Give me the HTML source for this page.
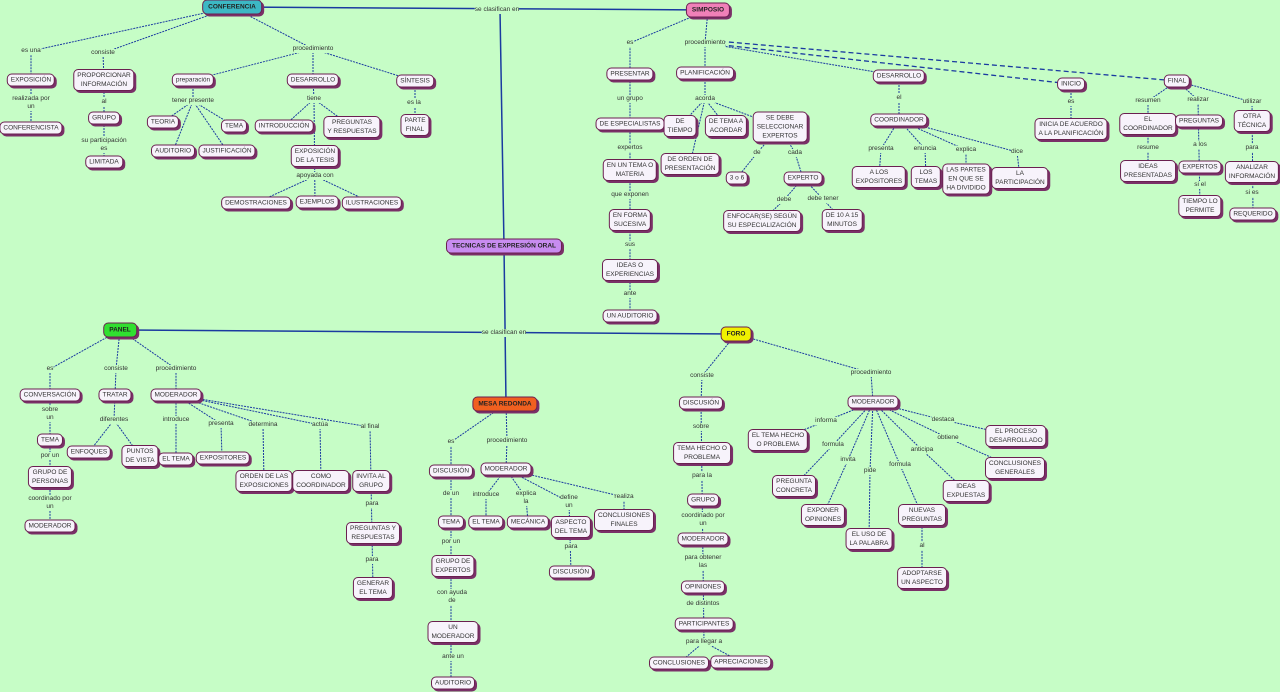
<!DOCTYPE html>
<html><head><meta charset="utf-8"><style>
body{margin:0;width:1280px;height:692px;background:#c6fdc6;position:relative;overflow:hidden;font-family:"Liberation Sans",sans-serif}
svg{position:absolute;left:0;top:0}
.n{position:absolute;transform:translate(-50%,-50%);background:#f7f3fb;border:1px solid #6a2050;border-radius:5px;box-shadow:2px 2px 0 #7a3068;font-size:6.5px;line-height:9px;text-align:center;padding:1px 3px;white-space:nowrap;color:#333}
.l{position:absolute;transform:translate(-50%,-50%);font-size:6.5px;line-height:8px;text-align:center;white-space:nowrap;color:#333;background:#c6fdc6}
.m{font-weight:bold;font-size:6.5px;padding:2px 5px;color:#222}
</style></head><body>
<svg width="1280" height="692"><g stroke="#1a3aa0" stroke-width="1" fill="none" stroke-dasharray="2 1">
<polyline points="232,7 31,51 31,80"/><polyline points="232,7 103,53 104,80"/><polyline points="232,7 313,49 193,80"/><polyline points="313,49 313,80"/><polyline points="313,49 415,81"/>
<polyline points="31,80 31,128"/><polyline points="104,80 104,162"/>
<polyline points="193,80 193,101 163,122"/><polyline points="193,101 234,126"/><polyline points="193,101 173,151"/><polyline points="193,101 227,151"/>
<polyline points="313,80 314,99 284,126"/><polyline points="314,99 352,127"/><polyline points="314,99 315,203"/><polyline points="315,176 256,203"/><polyline points="315,176 372,203"/>
<polyline points="415,81 415,125"/>
<polyline points="232,7 708,10" stroke-dasharray="none" stroke-width="1.5"/><polyline points="500,10 504,246 506,404" stroke-dasharray="none" stroke-width="1.5"/><polyline points="120,330 736,334" stroke-dasharray="none" stroke-width="1.5"/>
<polyline points="708,10 630,43 630,316"/><polyline points="708,10 705,43 705,73"/><polyline points="705,43 899,76"/><polyline points="705,43 1071,84" stroke-dasharray="5 3" stroke-width="1.3"/><polyline points="705,40 1177,81" stroke-dasharray="5 3" stroke-width="1.3"/>
<polyline points="705,73 705,99 680,126"/><polyline points="705,99 726,126"/><polyline points="705,99 780,127"/><polyline points="705,99 690,164"/>
<polyline points="780,127 757,153 737,178"/><polyline points="780,127 795,153 803,178 784,200 762,221"/><polyline points="803,178 823,199 842,220"/>
<polyline points="899,76 899,120 881,149 879,177"/><polyline points="899,120 925,149 926,177"/><polyline points="899,120 966,150 966,178"/><polyline points="899,120 1017,152 1020,178"/>
<polyline points="1071,84 1071,129"/>
<polyline points="1177,81 1148,101 1148,171"/><polyline points="1177,81 1198,100 1200,206"/><polyline points="1177,81 1252,102 1253,214"/>
<polyline points="120,330 50,369 50,526"/><polyline points="120,330 116,369 115,395 114,420 89,452"/><polyline points="114,420 140,456"/>
<polyline points="120,330 176,369 176,459"/><polyline points="176,395 221,424 222,458"/><polyline points="176,395 263,425 264,481"/><polyline points="176,395 320,425 321,481"/><polyline points="176,395 370,427 373,588"/>
<polyline points="506,404 451,442 451,683"/><polyline points="506,404 507,441 506,469"/><polyline points="506,469 486,495 486,522"/><polyline points="506,469 526,498 528,522"/><polyline points="506,469 569,502 571,572"/><polyline points="506,469 624,497 624,520"/>
<polyline points="736,334 702,376 701,403 704,642 679,663"/><polyline points="704,642 741,662"/>
<polyline points="736,334 871,373 873,402"/>
<polyline points="873,402 826,421 778,440"/><polyline points="873,402 833,445 794,486"/><polyline points="873,402 848,460 823,515"/><polyline points="873,402 870,471 869,539"/><polyline points="873,402 900,465 922,515 922,578"/><polyline points="873,402 922,450 966,491"/><polyline points="873,402 948,438 1015,468"/><polyline points="873,402 943,420 1016,436"/>
</g></svg>
<div class="n m" style="left:232px;top:7px;background:#3cb8c4">CONFERENCIA</div>
<div class="n m" style="left:708px;top:10px;background:#f080b8">SIMPOSIO</div>
<div class="n m" style="left:504px;top:246px;background:#c88cf0">TECNICAS DE EXPRESIÓN ORAL</div>
<div class="n m" style="left:120px;top:330px;background:#30e030">PANEL</div>
<div class="n m" style="left:505px;top:404px;background:#f06020">MESA REDONDA</div>
<div class="n m" style="left:736px;top:334px;background:#f0f000">FORO</div>
<div class="l" style="left:497px;top:10px">se clasifican en</div>
<div class="l" style="left:504px;top:333px">se clasifican en</div>
<div class="l" style="left:31px;top:51px">es una</div><div class="l" style="left:103px;top:53px">consiste</div><div class="l" style="left:313px;top:49px">procedimiento</div>
<div class="n" style="left:31px;top:80px">EXPOSICIÓN</div><div class="l" style="left:31px;top:103px">realizada por<br>un</div><div class="n" style="left:31px;top:128px">CONFERENCISTA</div>
<div class="n" style="left:104px;top:80px">PROPORCIONAR<br>INFORMACIÓN</div><div class="l" style="left:104px;top:102px">al</div><div class="n" style="left:104px;top:118px">GRUPO</div><div class="l" style="left:104px;top:145px">su participación<br>es</div><div class="n" style="left:104px;top:162px">LIMITADA</div>
<div class="n" style="left:193px;top:80px">preparación</div><div class="l" style="left:193px;top:101px">tener presente</div>
<div class="n" style="left:163px;top:122px">TEORIA</div><div class="n" style="left:234px;top:126px">TEMA</div><div class="n" style="left:173px;top:151px">AUDITORIO</div><div class="n" style="left:227px;top:151px">JUSTIFICACIÓN</div>
<div class="n" style="left:313px;top:80px">DESARROLLO</div><div class="l" style="left:314px;top:99px">tiene</div>
<div class="n" style="left:284px;top:126px">INTRODUCCIÓN</div><div class="n" style="left:352px;top:127px">PREGUNTAS<br>Y RESPUESTAS</div><div class="n" style="left:315px;top:156px">EXPOSICIÓN<br>DE LA TESIS</div><div class="l" style="left:315px;top:176px">apoyada con</div>
<div class="n" style="left:256px;top:203px">DEMOSTRACIONES</div><div class="n" style="left:317px;top:202px">EJEMPLOS</div><div class="n" style="left:372px;top:203px">ILUSTRACIONES</div>
<div class="n" style="left:415px;top:81px">SÍNTESIS</div><div class="l" style="left:414px;top:103px">es la</div><div class="n" style="left:415px;top:125px">PARTE<br>FINAL</div>
<div class="l" style="left:630px;top:43px">es</div><div class="l" style="left:705px;top:43px">procedimiento</div>
<div class="n" style="left:630px;top:74px">PRESENTAR</div><div class="l" style="left:630px;top:99px">un grupo</div><div class="n" style="left:630px;top:124px">DE ESPECIALISTAS</div><div class="l" style="left:630px;top:148px">expertos</div><div class="n" style="left:630px;top:170px">EN UN TEMA O<br>MATERIA</div><div class="l" style="left:630px;top:195px">que exponen</div><div class="n" style="left:630px;top:220px">EN FORMA<br>SUCESIVA</div><div class="l" style="left:630px;top:245px">sus</div><div class="n" style="left:630px;top:270px">IDEAS O<br>EXPERIENCIAS</div><div class="l" style="left:630px;top:294px">ante</div><div class="n" style="left:630px;top:316px">UN AUDITORIO</div>
<div class="n" style="left:705px;top:73px">PLANIFICACIÓN</div><div class="l" style="left:705px;top:99px">acorda</div>
<div class="n" style="left:680px;top:126px">DE<br>TIEMPO</div><div class="n" style="left:726px;top:126px">DE TEMA A<br>ACORDAR</div><div class="n" style="left:780px;top:127px">SE DEBE<br>SELECCIONAR<br>EXPERTOS</div><div class="n" style="left:690px;top:164px">DE ORDEN DE<br>PRESENTACIÓN</div>
<div class="l" style="left:757px;top:153px">de</div><div class="l" style="left:795px;top:153px">cada</div><div class="n" style="left:737px;top:178px">3 o 6</div><div class="n" style="left:803px;top:178px">EXPERTO</div>
<div class="l" style="left:784px;top:200px">debe</div><div class="l" style="left:823px;top:199px">debe tener</div><div class="n" style="left:762px;top:221px">ENFOCAR(SE) SEGÚN<br>SU ESPECIALIZACIÓN</div><div class="n" style="left:842px;top:220px">DE 10 A 15<br>MINUTOS</div>
<div class="n" style="left:899px;top:76px">DESARROLLO</div><div class="l" style="left:899px;top:98px">el</div><div class="n" style="left:899px;top:120px">COORDINADOR</div>
<div class="l" style="left:881px;top:149px">presenta</div><div class="l" style="left:925px;top:149px">enuncia</div><div class="l" style="left:966px;top:150px">explica</div><div class="l" style="left:1017px;top:152px">dice</div>
<div class="n" style="left:879px;top:177px">A LOS<br>EXPOSITORES</div><div class="n" style="left:926px;top:177px">LOS<br>TEMAS</div><div class="n" style="left:966px;top:179px">LAS PARTES<br>EN QUE SE<br>HA DIVIDIDO</div><div class="n" style="left:1020px;top:178px">LA<br>PARTICIPACIÓN</div>
<div class="n" style="left:1071px;top:84px">INICIO</div><div class="l" style="left:1071px;top:102px">es</div><div class="n" style="left:1071px;top:129px">INICIA DE ACUERDO<br>A LA PLANIFICACIÓN</div>
<div class="n" style="left:1177px;top:81px">FINAL</div><div class="l" style="left:1148px;top:101px">resumen</div><div class="l" style="left:1198px;top:100px">realizar</div><div class="l" style="left:1252px;top:102px">utilizar</div>
<div class="n" style="left:1148px;top:124px">EL<br>COORDINADOR</div><div class="l" style="left:1148px;top:148px">resume</div><div class="n" style="left:1148px;top:171px">IDEAS<br>PRESENTADAS</div>
<div class="n" style="left:1199px;top:121px">PREGUNTAS</div><div class="l" style="left:1200px;top:145px">a los</div><div class="n" style="left:1200px;top:167px">EXPERTOS</div><div class="l" style="left:1200px;top:185px">si el</div><div class="n" style="left:1200px;top:206px">TIEMPO LO<br>PERMITE</div>
<div class="n" style="left:1252px;top:121px">OTRA<br>TÉCNICA</div><div class="l" style="left:1252px;top:148px">para</div><div class="n" style="left:1252px;top:172px">ANALIZAR<br>INFORMACIÓN</div><div class="l" style="left:1252px;top:193px">si es</div><div class="n" style="left:1253px;top:214px">REQUERIDO</div>
<div class="l" style="left:50px;top:369px">es</div><div class="l" style="left:116px;top:369px">consiste</div><div class="l" style="left:176px;top:369px">procedimiento</div>
<div class="n" style="left:50px;top:395px">CONVERSACIÓN</div><div class="l" style="left:50px;top:414px">sobre<br>un</div><div class="n" style="left:50px;top:440px">TEMA</div><div class="l" style="left:50px;top:456px">por un</div><div class="n" style="left:50px;top:477px">GRUPO DE<br>PERSONAS</div><div class="l" style="left:50px;top:503px">coordinado por<br>un</div><div class="n" style="left:50px;top:526px">MODERADOR</div>
<div class="n" style="left:115px;top:395px">TRATAR</div><div class="l" style="left:114px;top:420px">diferentes</div><div class="n" style="left:89px;top:452px">ENFOQUES</div><div class="n" style="left:140px;top:456px">PUNTOS<br>DE VISTA</div>
<div class="n" style="left:176px;top:395px">MODERADOR</div><div class="l" style="left:176px;top:420px">introduce</div><div class="n" style="left:176px;top:459px">EL TEMA</div>
<div class="l" style="left:221px;top:424px">presenta</div><div class="n" style="left:223px;top:458px">EXPOSITORES</div><div class="l" style="left:263px;top:425px">determina</div><div class="n" style="left:264px;top:481px">ORDEN DE LAS<br>EXPOSICIONES</div>
<div class="l" style="left:320px;top:425px">actúa</div><div class="n" style="left:321px;top:481px">COMO<br>COORDINADOR</div><div class="l" style="left:370px;top:427px">al final</div><div class="n" style="left:371px;top:481px">INVITA AL<br>GRUPO</div><div class="l" style="left:372px;top:504px">para</div><div class="n" style="left:373px;top:533px">PREGUNTAS Y<br>RESPUESTAS</div><div class="l" style="left:372px;top:560px">para</div><div class="n" style="left:373px;top:588px">GENERAR<br>EL TEMA</div>
<div class="l" style="left:451px;top:442px">es</div><div class="l" style="left:507px;top:441px">procedimiento</div>
<div class="n" style="left:451px;top:471px">DISCUSIÓN</div><div class="l" style="left:451px;top:494px">de un</div><div class="n" style="left:451px;top:522px">TEMA</div><div class="l" style="left:451px;top:542px">por un</div><div class="n" style="left:453px;top:566px">GRUPO DE<br>EXPERTOS</div><div class="l" style="left:452px;top:597px">con ayuda<br>de</div><div class="n" style="left:453px;top:632px">UN<br>MODERADOR</div><div class="l" style="left:453px;top:657px">ante un</div><div class="n" style="left:453px;top:683px">AUDITORIO</div>
<div class="n" style="left:506px;top:469px">MODERADOR</div><div class="l" style="left:486px;top:495px">introduce</div><div class="n" style="left:486px;top:522px">EL TEMA</div><div class="l" style="left:526px;top:498px">explica<br>la</div><div class="n" style="left:528px;top:522px">MECÁNICA</div><div class="l" style="left:569px;top:502px">define<br>un</div><div class="n" style="left:571px;top:527px">ASPECTO<br>DEL TEMA</div><div class="l" style="left:571px;top:547px">para</div><div class="n" style="left:571px;top:572px">DISCUSIÓN</div><div class="l" style="left:624px;top:497px">realiza</div><div class="n" style="left:624px;top:520px">CONCLUSIONES<br>FINALES</div>
<div class="l" style="left:702px;top:376px">consiste</div><div class="l" style="left:871px;top:373px">procedimiento</div>
<div class="n" style="left:701px;top:403px">DISCUSIÓN</div><div class="l" style="left:701px;top:427px">sobre</div><div class="n" style="left:702px;top:453px">TEMA HECHO O<br>PROBLEMA</div><div class="l" style="left:702px;top:476px">para la</div><div class="n" style="left:703px;top:500px">GRUPO</div><div class="l" style="left:703px;top:520px">coordinado por<br>un</div><div class="n" style="left:703px;top:539px">MODERADOR</div><div class="l" style="left:703px;top:562px">para obtener<br>las</div><div class="n" style="left:703px;top:587px">OPINIONES</div><div class="l" style="left:703px;top:604px">de distintos</div><div class="n" style="left:704px;top:624px">PARTICIPANTES</div><div class="l" style="left:704px;top:642px">para llegar a</div><div class="n" style="left:679px;top:663px">CONCLUSIONES</div><div class="n" style="left:741px;top:662px">APRECIACIONES</div>
<div class="n" style="left:873px;top:402px">MODERADOR</div>
<div class="l" style="left:826px;top:421px">informa</div><div class="n" style="left:778px;top:440px">EL TEMA HECHO<br>O PROBLEMA</div><div class="l" style="left:833px;top:445px">formula</div><div class="n" style="left:794px;top:486px">PREGUNTA<br>CONCRETA</div><div class="l" style="left:848px;top:460px">invita</div><div class="n" style="left:823px;top:515px">EXPONER<br>OPINIONES</div><div class="l" style="left:870px;top:471px">pide</div><div class="n" style="left:869px;top:539px">EL USO DE<br>LA PALABRA</div><div class="l" style="left:900px;top:465px">formula</div><div class="n" style="left:922px;top:515px">NUEVAS<br>PREGUNTAS</div><div class="l" style="left:922px;top:546px">al</div><div class="n" style="left:922px;top:578px">ADOPTARSE<br>UN ASPECTO</div><div class="l" style="left:922px;top:450px">anticipa</div><div class="n" style="left:966px;top:491px">IDEAS<br>EXPUESTAS</div><div class="l" style="left:948px;top:438px">obtiene</div><div class="n" style="left:1015px;top:468px">CONCLUSIONES<br>GENERALES</div><div class="l" style="left:943px;top:420px">destaca</div><div class="n" style="left:1016px;top:436px">EL PROCESO<br>DESARROLLADO</div>
</body></html>
